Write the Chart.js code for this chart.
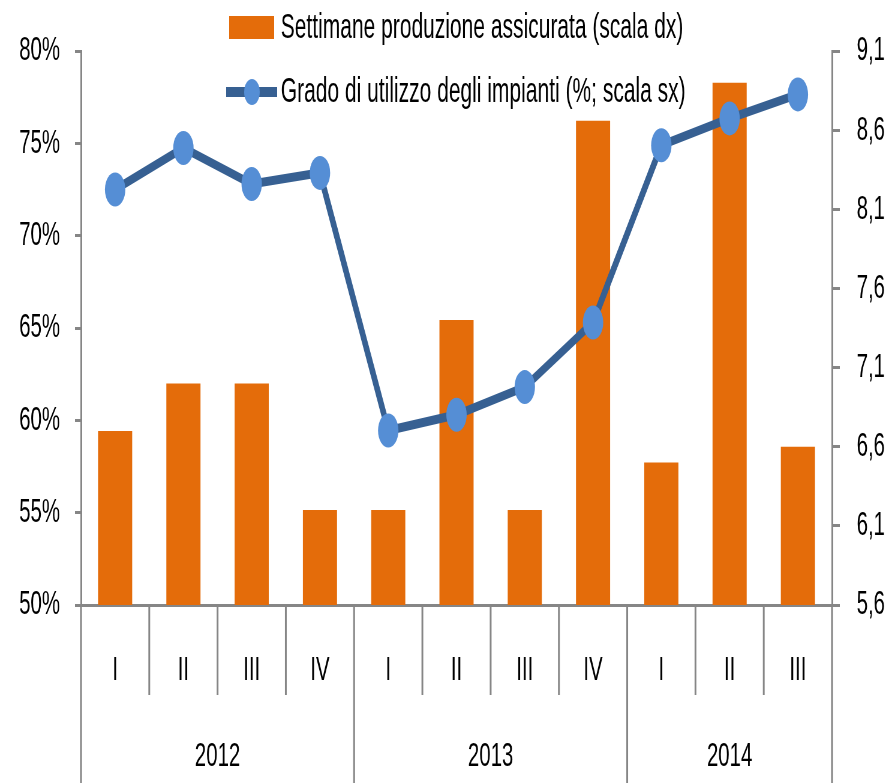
<!DOCTYPE html>
<html>
<head>
<meta charset="utf-8">
<script src="https://cdn.jsdelivr.net/npm/chart.js@4.4.1/dist/chart.umd.min.js"></script>
<style>
  html, body { margin: 0; padding: 0; background: #fff; overflow: hidden; }
  #wrap { width: 1482px; height: 783px; transform: scaleX(0.59987); transform-origin: 0 0; }
  canvas { display: block; }
</style>
</head>
<body>
<div id="wrap"><canvas id="c" width="1482" height="783" style="width:1482px;height:783px"></canvas></div>
<script>
// ---- data ----
const quarters = ['I', 'II', 'III', 'IV', 'I', 'II', 'III', 'IV', 'I', 'II', 'III'];
const years = ['2012', '2013', '2014'];
const yearSpans = [4, 4, 3];
const settimane = [6.7, 7.0, 7.0, 6.2, 6.2, 7.4, 6.2, 8.66, 6.5, 8.9, 6.6];
const grado = [72.5, 74.75, 72.8, 73.4, 59.45, 60.3, 61.8, 65.3, 74.9, 76.35, 77.65];
const labelBars = 'Settimane produzione assicurata (scala dx)';
const labelLine = 'Grado di utilizzo degli impianti (%; scala sx)';

const FONT = "'Liberation Sans', Arial, sans-serif";
const AXIS_GRAY = '#868686';

const groupPlugin = {
  id: 'groups',
  afterDraw(chart) {
    const xs = chart.scales.x;
    const ctx = chart.ctx;
    const half = (xs.getPixelForTick(1) - xs.getPixelForTick(0)) / 2;
    const top = xs.top;
    const bounds = [0];
    let acc = 0;
    yearSpans.forEach(s => { acc += s; bounds.push(acc); });
    ctx.save();
    ctx.strokeStyle = AXIS_GRAY;
    ctx.lineWidth = 3;
    for (let i = 0; i <= quarters.length; i++) {
      const px = i < quarters.length ? xs.getPixelForTick(i) - half : xs.getPixelForTick(i - 1) + half;
      const isLong = bounds.includes(i);
      ctx.beginPath();
      ctx.moveTo(px, top);
      ctx.lineTo(px, isLong ? chart.height : top + 90);
      ctx.stroke();
    }
    ctx.fillStyle = '#000';
    ctx.font = '34px ' + FONT;
    ctx.textAlign = 'center';
    ctx.textBaseline = 'middle';
    years.forEach((y, k) => {
      const a = xs.getPixelForTick(bounds[k]) - half;
      const b = xs.getPixelForTick(bounds[k + 1] - 1) + half;
      ctx.fillText(y, (a + b) / 2, 757);
    });

    // legend
    const dsBar = chart.data.datasets[0];
    const dsLine = chart.data.datasets[1];
    ctx.font = '35px ' + FONT;
    ctx.fillStyle = dsBar.backgroundColor;
    ctx.fillRect(382, 16, 75, 23);
    ctx.fillStyle = '#000';
    ctx.textAlign = 'left';
    ctx.fillText(dsBar.label, 468, 28);

    ctx.strokeStyle = dsLine.borderColor;
    ctx.lineWidth = 10;
    ctx.beginPath();
    ctx.moveTo(377, 92);
    ctx.lineTo(462, 92);
    ctx.stroke();
    ctx.fillStyle = dsLine.pointBackgroundColor;
    ctx.beginPath();
    ctx.arc(420, 92, 13, 0, Math.PI * 2);
    ctx.fill();
    ctx.fillStyle = '#000';
    ctx.fillText(dsLine.label, 468, 92);
    ctx.restore();
  }
};

new Chart(document.getElementById('c'), {
  type: 'bar',
  data: {
    labels: quarters,
    datasets: [
      {
        type: 'bar',
        label: labelBars,
        data: settimane,
        yAxisID: 'y1',
        backgroundColor: '#E46C0A',
        borderWidth: 0,
        categoryPercentage: 1,
        barPercentage: 0.5,
        order: 1
      },
      {
        type: 'line',
        label: labelLine,
        data: grado,
        yAxisID: 'y',
        borderColor: '#376092',
        borderWidth: 9,
        tension: 0,
        pointRadius: 17,
        pointHoverRadius: 17,
        pointBackgroundColor: '#558ED5',
        pointBorderWidth: 0,
        order: 0
      }
    ]
  },
  options: {
    responsive: false,
    animation: false,
    devicePixelRatio: 1,
    layout: { padding: { top: 51, left: 0, right: 0, bottom: 0 } },
    plugins: { legend: { display: false }, tooltip: { enabled: false } },
    scales: {
      x: {
        offset: true,
        grid: { display: true, drawOnChartArea: false, drawTicks: false },
        border: { color: AXIS_GRAY, width: 3 },
        ticks: { color: '#000', font: { family: FONT, size: 34 }, padding: 45, maxRotation: 0, autoSkip: false },
        afterFit(s) { s.height = 178; }
      },
      y: {
        position: 'left',
        min: 50, max: 80,
        ticks: { stepSize: 5, color: '#000', font: { family: FONT, size: 34 }, padding: 25, callback: v => v + '%' },
        grid: { drawOnChartArea: false, drawTicks: true, tickLength: 10, color: AXIS_GRAY, lineWidth: 3 },
        border: { color: AXIS_GRAY, width: 3 },
        afterFit(s) { s.width = 135; }
      },
      y1: {
        position: 'right',
        min: 5.6, max: 9.1,
        ticks: { stepSize: 0.5, color: '#000', font: { family: FONT, size: 34 }, padding: 28, callback: v => v.toFixed(1).replace('.', ',') },
        grid: { drawOnChartArea: false, drawTicks: true, tickLength: 13, color: AXIS_GRAY, lineWidth: 3 },
        border: { color: AXIS_GRAY, width: 3 },
        afterFit(s) { s.width = 95; }
      }
    }
  },
  plugins: [groupPlugin]
});
</script>
</body>
</html>
